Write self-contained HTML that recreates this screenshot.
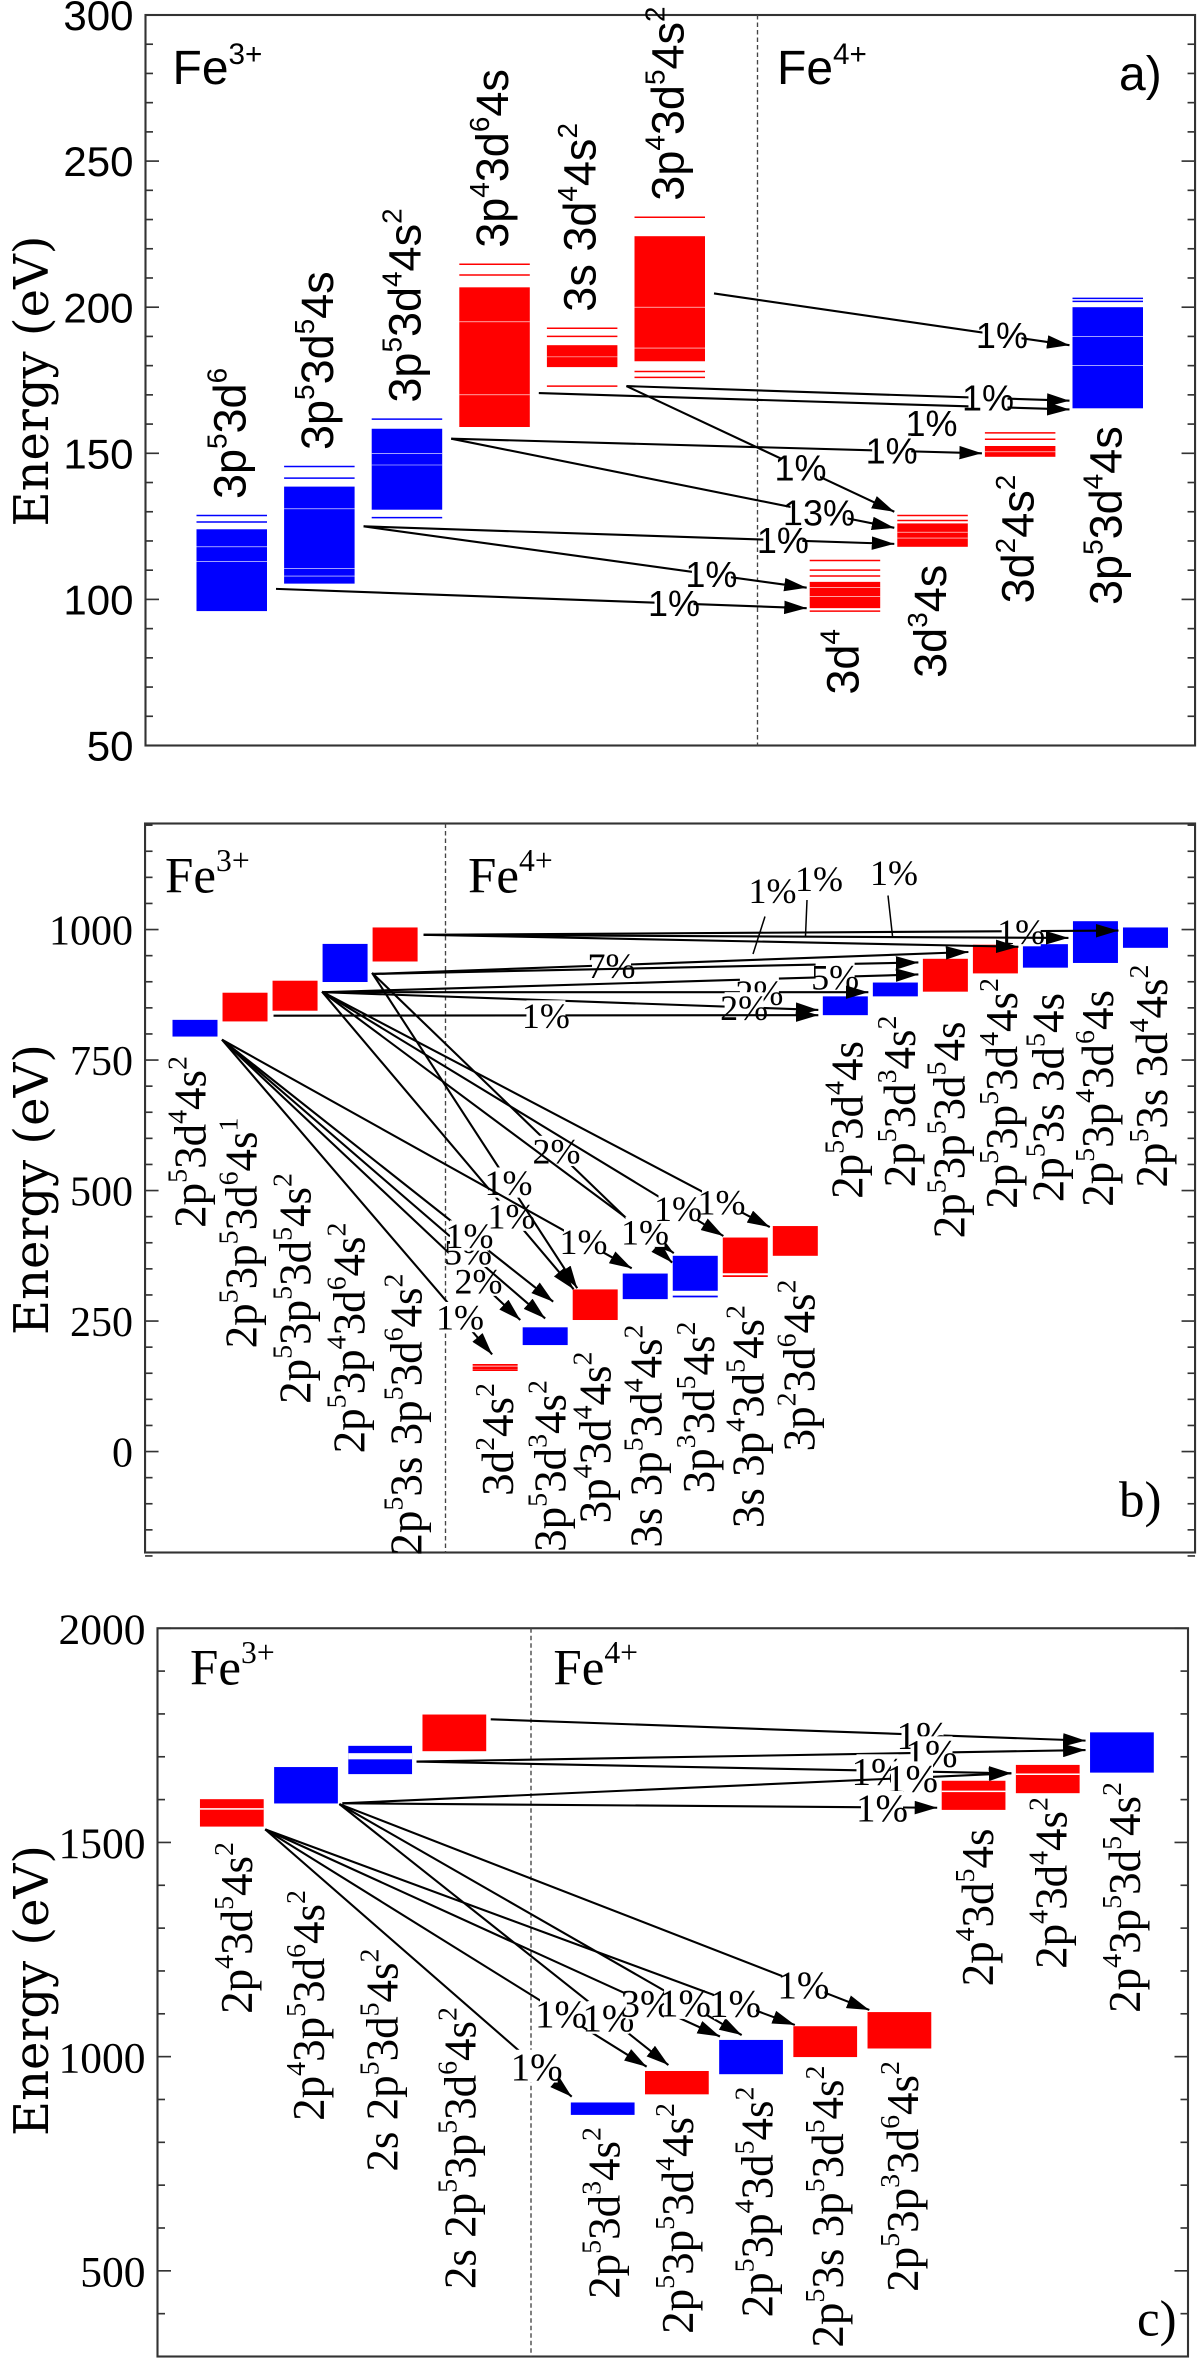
<!DOCTYPE html>
<html><head><meta charset="utf-8"><title>Fe energy level diagrams</title>
<style>
html,body{margin:0;padding:0;background:#fff;}
#chart{display:block;width:1200px;height:2363px;}
</style></head>
<body>
<svg id="chart" xmlns="http://www.w3.org/2000/svg" width="1200" height="2363" viewBox="0 0 800 1575.33" preserveAspectRatio="none">
<defs>
<marker id="ah" markerUnits="userSpaceOnUse" markerWidth="15" markerHeight="9" refX="15" refY="4.5" orient="auto"><path d="M0,0 L15,4.5 L0,9 z" fill="#000"/></marker>
</defs>
</svg>
<script>
// ---------- Panel a data ----------
const aConfigs = ['3p^53d^6','3p^53d^54s','3p^53d^44s^2','3p^43d^64s','3s 3d^44s^2','3p^43d^54s^2','3d^4','3d^34s','3d^24s^2','3p^53d^44s'];
const aSlot = [0,1,2,3,4,5,7,8,9,10];
const aIon = [3,3,3,3,3,3,4,4,4,4];
const aColor = ['b','b','b','r','r','r','r','r','r','b'];
const aLo = [96,105.4,130.7,159,179.5,181.5,97,118,148.8,165.4];
const aHi = [124,138.6,158.4,206.8,187,224.3,106,126,152.5,200];
const aExtra = [[126.5,128.7],[141.5,145.5],[128,161.7],[211,214.7],[173,190,192.8],[176,178,230.8],[96,108,110,113.3],[127,128.7],[154.8,157],[202,203]];
const aGaps = [[113,118],[108,110.5,131],[146,150],[170,195],[183],[186,200],[101,104],[121,123],[150.5],[180,190]];
const aArrFrom = [5,3,4,2,4,2,1,1,0];
const aArrFromE = [204.7,170.6,173,155,173,155,125,125,103.6];
const aArrTo = [9,9,9,8,7,7,7,6,6];
const aArrToE = [187,165,168,150,130,124.5,119,104,97];
const aArrLabel = ['1%','1%','1%','1%','1%','13%','1%','1%','1%'];
const aArrLabelT = [0.81,0.74,0.816,0.83,0.65,0.83,0.79,0.785,0.75];
const aTicks = [50,100,150,200,250,300];

// ---------- Panel b data ----------
const bConfigs = ['2p^53d^44s^2','2p^53p^53d^64s^1','2p^53p^53d^54s^2','2p^53p^43d^64s^2','2p^53s 3p^53d^64s^2','3d^24s^2','3p^53d^34s^2','3p^43d^44s^2','3s 3p^53d^44s^2','3p^33d^54s^2','3s 3p^43d^54s^2','3p^23d^64s^2','2p^53d^44s','2p^53d^34s^2','2p^53p^53d^54s','2p^53p^53d^44s^2','2p^53s 3d^54s','2p^53p^43d^64s','2p^53s 3d^44s^2'];
const bSlot = [0,1,2,3,4,6,7,8,9,10,11,12,13,14,15,16,17,18,19];
const bColor = ['b','r','r','b','r','r','b','r','b','b','r','r','b','b','r','r','b','b','b'];
const bLo = [795,824,844.5,899.5,938.8,158,204,252,292,308,341.6,375,836,872,881,916,927,936,965];
const bHi = [827,879,902,972.5,1004,163,238,310.6,341,375,410,432,872,898.5,944,971,972,1016,1004];
const bExtra = [[],[],[],[],[],[156,166],[],[],[],[297],[336],[],[],[],[],[],[],[],[]];
const bTicks = [0,250,500,750,1000];
const bRFrom = [4,4,4,3,3,2,2,2,1];
const bRFromE = [990,990,990,915,915,880,880,880,835];
const bRTo = [18,17,16,15,14,14,13,12,12];
const bRToE = [998,984,967,957,937,914,880,846,836];
const bRLabel = ['1%','','','7%','','5%','2%','2%','1%'];
const bRLabelT = [0.86,0,0,0.4,0,0.86,0.8,0.85,0.5];
const bDFrom = [0,0,0,0,2,3,3,0,2,2,2];
const bDFromE = [789,789,789,789,881,917,917,789,881,881,881];
const bDTo = [5,6,6,7,7,7,9,8,9,10,11];
const bDToE = [186,252,255,287,311,313,362,351,380,413,430];
const bDToDx = [13,-1.6,15,-13,0.6,3,-0.4,6,0.7,0.4,-2];
const bDLabel = ['1%','2%','5%','1%','1%','1%','2%','1%','1%','1%','1%'];
const bDLabelX = [306.7,319,312,313,341,339,371,389,430,452,481];

// ---------- Panel c data ----------
const cConfigs = ['2p^43d^54s^2','2p^43p^53d^64s^2','2s 2p^53d^54s^2','2s 2p^53p^53d^64s^2','2p^53d^34s^2','2p^53p^53d^44s^2','2p^53p^43d^54s^2','2p^53s 3p^53d^54s^2','2p^53p^33d^64s^2','2p^43d^54s','2p^43d^44s^2','2p^43p^53d^54s^2'];
const cSlot = [0,1,2,3,5,6,7,8,9,10,11,12];
const cColor = ['r','b','b','r','b','r','b','r','r','r','r','b'];
const cLo = [1537,1591,1659.5,1713,864,912,959,999,1019,1576,1615,1663];
const cHi = [1601,1676,1725.5,1798.6,893,966.5,1039,1071,1104,1644,1681,1757];
const cGapLo = [1577,0,1694,0,0,0,0,0,0,1618,1658,0];
const cGapHi = [1580,0,1708.4,0,0,0,0,0,0,1621,1661,0];
const cTicks = [500,1000,1500,2000];
const cRFrom = [3,2,2,1,1];
const cRFromE = [1787.5,1688.7,1688.7,1591.4,1591.4];
const cRTo = [11,11,10,10,9];
const cRToE = [1737.7,1715.7,1661.4,1661.4,1581];
const cRLabel = ['1%','1%','1%','1%','1%'];
const cRLabelX = [615,621,585,608,588];
const cDFrom = [0,0,1,0,1,0,1];
const cDFromE = [1530.5,1530.5,1589.6,1530.5,1589.6,1530.5,1589.6];
const cDTo = [4,5,5,6,6,7,8];
const cDToE = [906.5,976.5,980.4,1047,1050.4,1074,1109];
const cDToDx = [0.6,1.1,15.6,0.5,15,1,1.2];
const cDLabel = ['1%','1%','1%','3%','1%','1%','1%'];
const cDLabelX = [357.8,374,405.6,431,456.7,490,535.6];

// ---------- helpers ----------
const svg = document.getElementById('chart');
const NS = svg.namespaceURI;
const RED = '#ff0000', BLUE = '#0000ff';
function mk(tag, attrs, parent){
  const el = document.createElementNS(NS, tag);
  for (const k in attrs) el.setAttribute(k, attrs[k]);
  (parent || svg).appendChild(el);
  return el;
}
function rich(el, str, fs){
  let i = 0, shifted = false;
  while (i < str.length){
    if (str[i] === '^'){
      const t = document.createElementNS(NS,'tspan');
      t.setAttribute('font-size', (fs*0.62).toFixed(1));
      t.setAttribute('dy', (-fs*0.42).toFixed(1));
      t.textContent = str[i+1];
      el.appendChild(t);
      shifted = true; i += 2;
    } else {
      let j = i; while (j < str.length && str[j] !== '^') j++;
      const t = document.createElementNS(NS,'tspan');
      if (shifted) { t.setAttribute('dy', (fs*0.42).toFixed(1)); shifted = false; }
      t.textContent = str.slice(i,j);
      el.appendChild(t);
      i = j;
    }
  }
}
function slug(s){ return s.replace(/\^/g,'').replace(/\s+/g,'-').toLowerCase(); }

function drawFrame(g, P, name){
  const fr = mk('rect',{x:P.x0,y:P.y0,width:P.x1-P.x0,height:P.y1-P.y0,fill:'none',stroke:'#333','stroke-width':1.4},g);
  
  
  for (let e = P.eMin; e <= P.eMax + 1e-6; e += P.minor){
    const y = P.y(e);
    const major = Math.abs(e/P.major - Math.round(e/P.major)) < 1e-6;
    const L = major ? 9 : 5;
    const t1 = mk('line',{x1:P.x0,x2:P.x0+L,y1:y,y2:y,stroke:'#333','stroke-width':1.1},g);
    
    
    const t2 = mk('line',{x1:P.x1,x2:P.x1-L,y1:y,y2:y,stroke:'#333','stroke-width':1.1},g);
    
    
  }
  P.ticks.forEach(v => {
    const t = mk('text',{x:P.x0-8,y:P.y(v)+P.tfs*0.36,'text-anchor':'end','font-size':P.tfs,'font-family':P.tfont},g);
    t.textContent = String(v);
    
    
  });
  const yt = mk('text',{transform:`translate(${P.titleX},${P.titleY}) rotate(-90)`,'text-anchor':'middle','font-size':32,'font-family':'"DejaVu Serif","Liberation Serif",serif'},g);
  yt.textContent = 'Energy (eV)';
  
  
  const dv = mk('line',{x1:P.div,x2:P.div,y1:P.y0,y2:P.y1,stroke:'#444','stroke-width':0.9,'stroke-dasharray':'3,2'},g);
  
  
  [[P.fe3x,'3+'],[P.fe4x,'4+']].forEach(([x,ch]) => {
    const t = mk('text',{x:x,y:P.feY,'font-size':P.fefs,'font-family':P.lfont},g);
    rich(t,'Fe^'+ch[0],P.fefs);
    t.lastChild.textContent = ch;
    
    
  });
  const pl = mk('text',{x:P.letX,y:P.letY,'font-size':P.fefs,'font-family':P.lfont},g);
  pl.textContent = P.letter;
  
  
}
function block(g, x, w, y1, y2, col, name){
  const r = mk('rect',{x:x,y:Math.min(y1,y2),width:w,height:Math.max(1,Math.abs(y2-y1)),fill:col},g);
  
  
  return r;
}
function hline(g, x, w, y, col, sw, name){
  const l = mk('line',{x1:x,x2:x+w,y1:y,y2:y,stroke:col,'stroke-width':sw},g);
  
  
}
function arrow(g, x1, y1, x2, y2, label, lx, ly, fs, font, name){
  const l = mk('line',{x1:x1,y1:y1,x2:x2,y2:y2,stroke:'#000','stroke-width':1.4,'marker-end':'url(#ah)'},g);
  
  
  if (label){
    const w = label.length*fs*0.5+2;
    const bg = mk('rect',{x:lx-w/2,y:ly-fs*0.42,width:w,height:fs*0.84,fill:'#fff'},g);
    
    
    const t = mk('text',{x:lx,y:ly+fs*0.35,'text-anchor':'middle','font-size':fs,'font-family':font},g);
    t.textContent = label;
    
    
  }
}
function vlabel(g, xc, top, str, fs, font, name){
  const t = mk('text',{transform:`translate(${(xc+fs*0.3).toFixed(1)},${top.toFixed(1)}) rotate(-90)`,'text-anchor':'end','font-size':fs,'font-family':font},g);
  rich(t,str,fs);
  
  
}
function vlabelStart(g, xc, bottom, str, fs, font, name){
  const t = mk('text',{transform:`translate(${(xc+fs*0.3).toFixed(1)},${bottom.toFixed(1)}) rotate(-90)`,'text-anchor':'start','font-size':fs,'font-family':font},g);
  rich(t,str,fs);
  
  
}
const SANS = '"Liberation Sans","DejaVu Sans",sans-serif';
const SERIF = '"Liberation Serif","DejaVu Serif",serif';

// ---------- Panel a ----------
(function(){
  const P = {x0:97,x1:796.7,y0:10,y1:497,eMin:50,eMax:300,major:50,minor:10,ticks:aTicks,tfs:28,tfont:SANS,
    titleX:32,titleY:254,div:505,fe3x:115,fe4x:518,feY:56,fefs:32,lfont:SANS,letter:'a)',letX:746,letY:60};
  P.y = e => P.y0 + (P.eMax-e)*(P.y1-P.y0)/(P.eMax-P.eMin);
  const g = mk('g',{});
  
  
  drawFrame(g,P,'panel-a');
  const X = i => 131 + aSlot[i]*58.4, W = 47;
  aConfigs.forEach((c,i) => {
    const col = aColor[i]==='r'?RED:BLUE;
    block(g, X(i), W, P.y(aLo[i]), P.y(aHi[i]), col, 'level-block-'+slug(c));
    aExtra[i].forEach(e => hline(g, X(i), W, P.y(e), col, 1, 'level-line'));
    aGaps[i].forEach(e => hline(g, X(i), W, P.y(e), '#fff', 0.4, 'level-gap'));
    const all = aExtra[i].concat([aLo[i],aHi[i]]);
    if (aIon[i]===3) vlabelStart(g, X(i)+W/2, P.y(Math.max(...all))-11, c, 30, SANS, 'config-label');
    else vlabel(g, X(i)+W/2, P.y(Math.min(...all))+12, c, 30, SANS, 'config-label');
  });
  const aDy = [0,12,0,0,0,0,0,0,0];
  aArrFrom.forEach((f,k) => {
    const x1 = X(f)+W+6, y1 = P.y(aArrFromE[k]);
    const x2 = X(aArrTo[k])-2, y2 = P.y(aArrToE[k]);
    const t = aArrLabelT[k];
    arrow(g, x1,y1,x2,y2, aArrLabel[k], x1+(x2-x1)*t, y1+(y2-y1)*t + aDy[k], 24, SANS, 'transition-arrow');
  });
})();

// ---------- Panel b ----------
(function(){
  const P = {x0:96.7,x1:796.7,y0:549,y1:1035,eMin:-200,eMax:1200,major:250,minor:50,ticks:bTicks,tfs:28,tfont:SERIF,
    titleX:32,titleY:793,div:297,fe3x:110,fe4x:312,feY:595,fefs:34,lfont:SERIF,letter:'b)',letX:746,letY:1011};
  P.y = e => 967.7 - e*0.348;
  const g = mk('g',{});
  
  
  drawFrame(g,P,'panel-b');
  const X = i => 115 + bSlot[i]*33.35, W = 30;
  const bLabelX = [128,162,198,234,272,333,368,398,432,467,500,534,566,601,634,669,700,733,769];
  const bLabelTop = [704,745,782,815,849,922,920,901,883,881,870,853,694,677,681,652,662,660,643];
  bConfigs.forEach((c,i) => {
    const col = bColor[i]==='r'?RED:BLUE;
    block(g, X(i), W, P.y(bLo[i]), P.y(bHi[i]), col, 'level-block-'+slug(c));
    bExtra[i].forEach(e => hline(g, X(i), W, P.y(e), col, 1.2, 'level-line'));
    vlabel(g, bLabelX[i], bLabelTop[i], c, 30, SERIF, 'config-label');
  });
  bRFrom.forEach((f,k) => {
    const x1 = X(f)+W+4, y1 = P.y(bRFromE[k]);
    const x2 = X(bRTo[k])-3, y2 = P.y(bRToE[k]);
    const t = bRLabelT[k];
    arrow(g, x1,y1,x2,y2, bRLabel[k], x1+(x2-x1)*t, y1+(y2-y1)*t, 24, SERIF, 'transition-arrow');
  });
  bDFrom.forEach((f,k) => {
    const x1 = X(f)+W+3, y1 = P.y(bDFromE[k]);
    const x2 = X(bDTo[k])+bDToDx[k], y2 = P.y(bDToE[k]);
    const t = (bDLabelX[k]-x1)/(x2-x1);
    arrow(g, x1,y1,x2,y2, bDLabel[k], bDLabelX[k], y1+(y2-y1)*t, 24, SERIF, 'transition-arrow');
  });
  [[515,599,510,611,502,636],[546,591,538,600,537,624],[596,587,592,597,595,624]].forEach(a => {
    const l = mk('line',{x1:a[2],y1:a[3],x2:a[4],y2:a[5],stroke:'#000','stroke-width':1},g);
    
    
    const t = mk('text',{x:a[0],y:a[1]+3,'text-anchor':'middle','font-size':24,'font-family':SERIF},g);
    t.textContent = '1%';
    
    
  });
})();

// ---------- Panel c ----------
(function(){
  const P = {x0:105,x1:792,y0:1085.5,y1:1571,eMin:300,eMax:2000,major:500,minor:100,ticks:cTicks,tfs:29,tfont:SERIF,
    titleX:32,titleY:1327,div:354,fe3x:126.7,fe4x:368.9,feY:1123,fefs:34,lfont:SERIF,letter:'c)',letX:758,letY:1557};
  P.y = e => P.y0 + (P.eMax-e)*(P.y1-P.y0)/(P.eMax-P.eMin);
  const g = mk('g',{});
  
  
  drawFrame(g,P,'panel-c');
  const X = i => 133.3 + cSlot[i]*49.45, W = 42.5;
  const cLabelX = [159,207,256,308,404,453,506,553,603,653,702,751];
  const cLabelTop = [1228,1260,1299,1338,1418,1402,1391,1377,1374,1219,1198,1188];
  cConfigs.forEach((c,i) => {
    const col = cColor[i]==='r'?RED:BLUE;
    block(g, X(i), W, P.y(cLo[i]), P.y(cHi[i]), col, 'level-block-'+slug(c));
    if (cGapHi[i] > 0) block(g, X(i), W, P.y(cGapLo[i]), P.y(cGapHi[i]), '#fff', 'level-gap');
    vlabel(g, cLabelX[i], cLabelTop[i], c, 30, SERIF, 'config-label');
  });
  cRFrom.forEach((f,k) => {
    const x1 = X(f)+W+3, y1 = P.y(cRFromE[k]);
    const x2 = X(cRTo[k])-3, y2 = P.y(cRToE[k]);
    const t = (cRLabelX[k]-x1)/(x2-x1);
    arrow(g, x1,y1,x2,y2, cRLabel[k], cRLabelX[k], y1+(y2-y1)*t, 26, SERIF, 'transition-arrow');
  });
  cDFrom.forEach((f,k) => {
    const x1 = X(f)+W+1, y1 = P.y(cDFromE[k]);
    const x2 = X(cDTo[k])+cDToDx[k], y2 = P.y(cDToE[k]);
    const t = (cDLabelX[k]-x1)/(x2-x1);
    arrow(g, x1,y1,x2,y2, cDLabel[k], cDLabelX[k], y1+(y2-y1)*t, 26, SERIF, 'transition-arrow');
  });
})();
</script>
</body></html>
